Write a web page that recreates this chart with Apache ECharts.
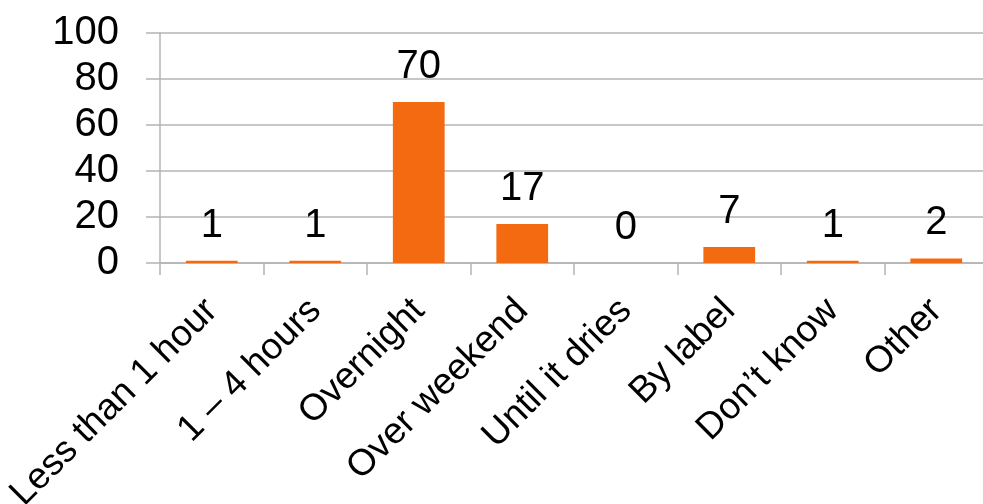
<!DOCTYPE html>
<html>
<head>
<meta charset="utf-8">
<script src="https://cdn.jsdelivr.net/npm/echarts@6/dist/echarts.min.js"></script>
<style>
html,body{margin:0;padding:0;background:#fff;}
#chart{width:983px;height:504px;}
</style>
</head>
<body>
<div id="chart"></div>
<script>
const categories = ["Less than 1 hour", "1 \u2013 4 hours", "Overnight", "Over weekend", "Until it dries", "By label", "Don\u2019t know", "Other"];
const values = [1, 1, 70, 17, 0, 7, 1, 2];
const yTicks = [0, 20, 40, 60, 80, 100];

const FONT = "Liberation Sans";
const GRID = "#b4b4b4";
const chart = echarts.init(document.getElementById('chart'), null, {renderer: 'canvas'});
chart.setOption({
  animation: false,
  backgroundColor: '#ffffff',
  grid: {left: 160, top: 33, width: 828, height: 230, containLabel: false, outerBoundsMode: 'none'},
  xAxis: {
    type: 'category',
    data: categories,
    axisLine: {show: true, lineStyle: {color: GRID, width: 1.5}},
    axisTick: {show: true, length: 12, alignWithLabel: false, lineStyle: {color: GRID, width: 1.5}},
    axisLabel: {rotate: 45, margin: 42, interval: 0, color: '#000', fontSize: 37, fontFamily: FONT},
    splitLine: {show: false}
  },
  yAxis: {
    type: 'value',
    min: yTicks[0], max: yTicks[yTicks.length - 1], interval: 20,
    axisLine: {show: true, lineStyle: {color: GRID, width: 1.5}},
    axisTick: {show: true, length: 14, lineStyle: {color: GRID, width: 1.5}},
    axisLabel: {margin: 41, color: '#000', fontSize: 40, fontFamily: FONT},
    splitLine: {show: true, lineStyle: {color: GRID, width: 1.5}}
  },
  series: [{
    type: 'bar',
    data: values,
    barWidth: '50%',
    itemStyle: {color: '#F36A10'},
    label: {show: true, position: 'top', distance: 15, color: '#000', fontSize: 40, fontFamily: FONT}
  }]
});
</script>
</body>
</html>
